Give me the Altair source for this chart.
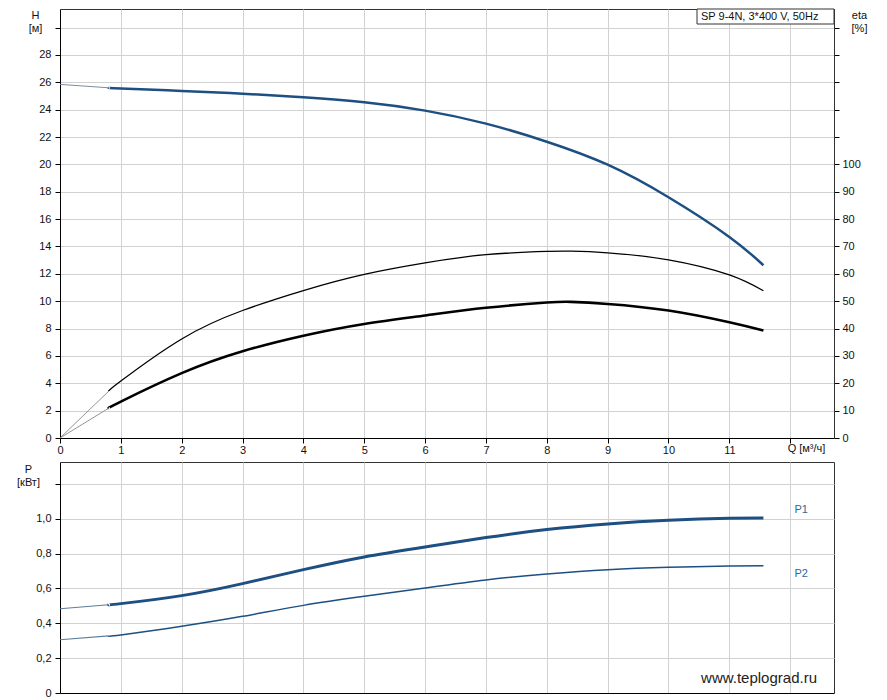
import altair as alt
import pandas as pd

FONT = "Liberation Sans"
BLUE = "#1d4f82"
LBLUE = "#2a6a9c"
GRID = "#d2d2d2"

# ---- data (Q in m3/h) ----
Q_START = [0, 0.8]
Q_MAIN = [0.8, 1, 2, 3, 4, 5, 6, 7, 8, 9, 10, 11, 11.56]

H_START = [25.85, 25.6]
H_MAIN = [25.6, 25.55, 25.37, 25.17, 24.9, 24.54, 23.93, 22.98, 21.66, 19.98, 17.6, 14.7, 12.63]

ETA_Q = [0.8, 1, 2, 3, 4, 5, 6, 7, 8, 8.4, 9, 10, 11, 11.56]
ETA_PUMP = [17.1, 20.8, 36.2, 46.6, 53.9, 59.8, 64.0, 67.0, 68.2, 68.3, 67.7, 65.1, 59.6, 53.8]
ETA_TOTAL = [10.9, 13.3, 23.7, 31.7, 37.4, 41.7, 44.8, 47.6, 49.5, 49.75, 49.0, 46.6, 42.3, 39.3]

P1_START = [0.484, 0.507]
P1_MAIN = [0.507, 0.513, 0.559, 0.628, 0.708, 0.781, 0.838, 0.892, 0.938, 0.970, 0.991, 1.003, 1.005]
P2_START = [0.306, 0.328]
P2_MAIN = [0.328, 0.333, 0.383, 0.440, 0.503, 0.555, 0.603, 0.649, 0.683, 0.708, 0.722, 0.729, 0.731]

LABEL_TEXT = ["P1", "P2"]
LABEL_Q = [12.18, 12.18]
LABEL_P = [1.05, 0.683]

Q_TICKS = list(range(0, 13))
H_TICKS = list(range(0, 31, 2))
ETA_TICKS = list(range(0, 151, 10))
P_TICKS = [0, 0.2, 0.4, 0.6, 0.8, 1.0, 1.2]

QMAX = 12.72
HMAX = 31.36
ETAMAX = HMAX * 5
PMAX = 1.326

W = 774
H_TOP = 429
H_BOT = 231

# ---- tables ----
df_h_start = pd.DataFrame({"Q": Q_START, "H": H_START})
df_h = pd.DataFrame({"Q": Q_MAIN, "H": H_MAIN})
df_eta_start = pd.DataFrame({
    "Q": [0, ETA_Q[0], 0, ETA_Q[0]],
    "eta": [0, ETA_PUMP[0], 0, ETA_TOTAL[0]],
    "s": ["pump", "pump", "total", "total"],
})
df_eta_pump = pd.DataFrame({"Q": ETA_Q, "eta": ETA_PUMP})
df_eta_total = pd.DataFrame({"Q": ETA_Q, "eta": ETA_TOTAL})
df_p_start = pd.DataFrame({
    "Q": Q_START + Q_START,
    "P": P1_START + P2_START,
    "s": ["P1", "P1", "P2", "P2"],
})
df_p1 = pd.DataFrame({"Q": Q_MAIN, "P": P1_MAIN})
df_p2 = pd.DataFrame({"Q": Q_MAIN, "P": P2_MAIN})
df_lab = pd.DataFrame({"Q": LABEL_Q, "P": LABEL_P, "t": LABEL_TEXT})

xscale = alt.Scale(domain=[0, QMAX], nice=False, zero=False)
hscale = alt.Scale(domain=[0, HMAX], nice=False, zero=False)
escale = alt.Scale(domain=[0, ETAMAX], nice=False, zero=False)
pscale = alt.Scale(domain=[0, PMAX], nice=False, zero=False)

x_axis_top = alt.Axis(values=Q_TICKS, tickCount=100,
                      labelExpr="datum.value == 12 ? '' : format(datum.value, 'd')",
                      grid=True, tickSize=5, labelPadding=1,
                      title="Q [м³/ч]", titleX=746, titleY=10, titleAlign="center",
                      titleBaseline="middle")
h_axis = alt.Axis(values=H_TICKS, tickCount=100,
                  labelExpr="datum.value >= 30 ? '' : format(datum.value, 'd')",
                  grid=True, tickSize=5, labelPadding=4,
                  title=["H", "[м]"], titleAngle=0, titleX=-25, titleY=0,
                  titleAlign="center", titleBaseline="top")
eta_axis = alt.Axis(orient="right", values=ETA_TICKS, tickCount=100,
                    labelExpr="datum.value > 100 ? '' : format(datum.value, 'd')",
                    grid=False, tickSize=5, labelPadding=3, domainColor="#333",
                    title=["eta", "[%]"], titleAngle=0, titleX=25, titleY=0,
                    titleAlign="center", titleBaseline="top")
x_axis_bot = alt.Axis(values=Q_TICKS, tickCount=100, labels=False, ticks=False,
                      grid=True, title=None)
p_axis = alt.Axis(values=P_TICKS, tickCount=100,
                  labelExpr="datum.value == 0 ? '0' : (datum.value > 1.1 ? '' : replace(format(datum.value, '.1f'), '.', ','))",
                  grid=True, tickSize=5, labelPadding=4,
                  title=["P", "[кВт]"], titleAngle=0, titleX=-32, titleY=1,
                  titleAlign="center", titleBaseline="top")

# ---- top panel ----
h_main = alt.Chart(df_h).mark_line(color=BLUE, strokeWidth=2.5, interpolate="natural").encode(
    x=alt.X("Q:Q", scale=xscale, axis=x_axis_top),
    y=alt.Y("H:Q", scale=hscale, axis=h_axis),
)
h_thin = alt.Chart(df_h_start).mark_line(color="#7d8ea0", strokeWidth=1).encode(
    x=alt.X("Q:Q", scale=xscale),
    y=alt.Y("H:Q", scale=hscale),
)
box = alt.Chart(df_h).mark_rect(fill="white", stroke="#333", strokeWidth=1).encode(
    x=alt.value(637), x2=alt.value(W), y=alt.value(0), y2=alt.value(15)
).transform_filter("datum.Q == 0.8")
box_text = alt.Chart(df_h).mark_text(align="left", baseline="middle", font=FONT,
                                      fontSize=11, color="#111").encode(
    x=alt.value(641), y=alt.value(8), text=alt.value("SP 9-4N, 3*400 V, 50Hz")
).transform_filter("datum.Q == 0.8")

eta_thin = alt.Chart(df_eta_start).mark_line(color="#777", strokeWidth=0.8).encode(
    x=alt.X("Q:Q", scale=xscale),
    y=alt.Y("eta:Q", scale=escale, axis=eta_axis),
    detail="s:N",
)
eta_pump = alt.Chart(df_eta_pump).mark_line(color="#000", strokeWidth=1.3, interpolate="natural").encode(
    x=alt.X("Q:Q", scale=xscale),
    y=alt.Y("eta:Q", scale=escale, axis=eta_axis),
)
eta_total = alt.Chart(df_eta_total).mark_line(color="#000", strokeWidth=2.6, interpolate="natural").encode(
    x=alt.X("Q:Q", scale=xscale),
    y=alt.Y("eta:Q", scale=escale, axis=eta_axis),
)

h_group = alt.layer(h_main, h_thin, box, box_text)
eta_group = alt.layer(eta_pump, eta_total, eta_thin)
top = alt.layer(h_group, eta_group).resolve_scale(y="independent").properties(
    width=W, height=H_TOP)

# ---- bottom panel ----
p1 = alt.Chart(df_p1).mark_line(color=BLUE, strokeWidth=3, interpolate="natural").encode(
    x=alt.X("Q:Q", scale=xscale, axis=x_axis_bot),
    y=alt.Y("P:Q", scale=pscale, axis=p_axis),
)
p_thin = alt.Chart(df_p_start).mark_line(color="#5d7c9c", strokeWidth=1.1).encode(
    x=alt.X("Q:Q", scale=xscale),
    y=alt.Y("P:Q", scale=pscale),
    detail="s:N",
)
p2 = alt.Chart(df_p2).mark_line(color=BLUE, strokeWidth=1.5, interpolate="natural").encode(
    x=alt.X("Q:Q", scale=xscale),
    y=alt.Y("P:Q", scale=pscale),
)
labels = alt.Chart(df_lab).mark_text(align="center", baseline="middle", font=FONT,
                                      fontSize=11, color=LBLUE).encode(
    x=alt.X("Q:Q", scale=xscale),
    y=alt.Y("P:Q", scale=pscale),
    text="t:N",
)
watermark = alt.Chart(df_lab).mark_text(align="right", baseline="middle", font=FONT,
                                         fontSize=15, color="#222").encode(
    x=alt.value(757), y=alt.value(216), text=alt.value("www.teplograd.ru")
).transform_filter("datum.t == 'P1'")

bottom = alt.layer(p1, p_thin, p2, labels, watermark).properties(width=W, height=H_BOT)

chart = alt.vconcat(top, bottom, spacing=5).properties(
    padding={"left": 8, "top": 0, "right": 5, "bottom": 0},
    background="white",
).configure_view(
    stroke="#333", strokeWidth=1
).configure_axis(
    labelFont=FONT, labelFontSize=11, labelColor="#111", titleFont=FONT,
    titleFontSize=11, titleFontWeight="normal", titleColor="#111",
    tickColor="#000", domainColor="#000", gridColor=GRID,
    labelOverlap=False, labelFlush=False
)

chart.save("out.html", embed_options={"renderer": "svg", "actions": False})
